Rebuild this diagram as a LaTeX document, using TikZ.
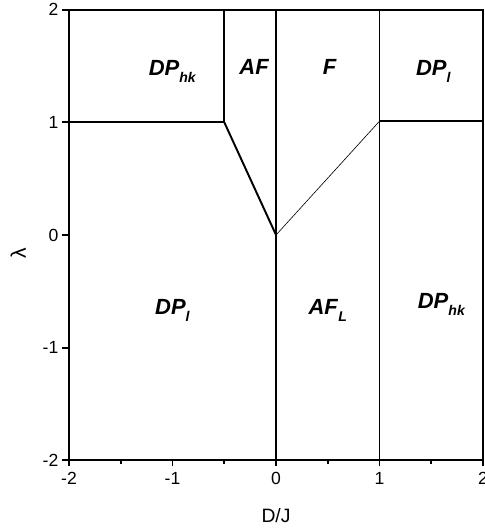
\documentclass[tikz,border=0pt]{standalone}
\usepackage{fontspec}
\setmainfont{Liberation Sans}
\usetikzlibrary{positioning}
\newcommand{\phase}[2]{\textbf{\textit{#1}}\raisebox{-0.6ex}{\footnotesize\textbf{\textit{#2}}}}

\begin{document}
\begin{tikzpicture}[
    x=2.07cm, y=2.254cm,
    frame/.style={line width=1.1pt},
    border/.style={line width=0.9pt},
    thinborder/.style={line width=0.35pt},
    phaselbl/.style={font=\fontsize{12.5}{14}\selectfont, inner sep=0pt},
    ticklbl/.style={font=\fontsize{10}{11}\selectfont, inner sep=0pt}
]
\useasboundingbox (-2.667,-2.609) rectangle (2.019,2.085);
% phase boundaries
\coordinate (o) at (0,0);
\coordinate (kl) at (-0.5,1);
\coordinate (kr) at (1,1.01);
\draw[border] (-2,1) -- (kl) -- (-0.5,2);
\draw[border, line width=1.1pt] (kl) -- (o);
\draw[thinborder] (o) -- (kr);
\draw[border] (0,-2) -- (0,2);
\draw[border] (1,-2) -- (1,2);
\draw[border] (kr) -- (2,1.01);
% frame and ticks
\draw[frame] (-2,-2) rectangle (2,2);
\foreach \t in {-2,-1,0,1,2} {
  \draw[frame] (\t,-2) -- ++(0,-0.05);
  \node[ticklbl, anchor=north] (xt\t) at (\t,-2.1) {\t};
  \draw[frame] (-2,\t) -- ++(-0.065,0);
  \node[ticklbl, anchor=east] (yt\t) at (-2.1,\t) {\t};
}
\foreach \t in {-1.5,-0.5,0.5,1.5}
  \draw[frame] (\t,-2) -- ++(0,-0.028);
\node[font=\fontsize{11}{12}\selectfont] (xlab) at (0,-2.49) {D/J};
\node[font=\fontsize{12}{12}\selectfont, rotate=90] (ylab) at (-2.49,-0.16) {λ};
% phase labels
\node[phaselbl] (dphk) at (-1.0,1.45) {\phase{DP}{hk}};
\node[phaselbl] (af) at (-0.21,1.46) {\phase{AF}{}};
\node[phaselbl] (f) at (0.52,1.46) {\phase{F}{}};
\node[phaselbl] (dpl) at (1.52,1.45) {\phase{DP}{l}};
\node[phaselbl] (dplow) at (-1.0,-0.67) {\phase{DP}{l}};
\node[phaselbl] (afl) at (0.5,-0.67) {\phase{AF}{L}};
\node[phaselbl] (dphklow) at (1.6,-0.62) {\phase{DP}{hk}};
\end{tikzpicture}
\end{document}
